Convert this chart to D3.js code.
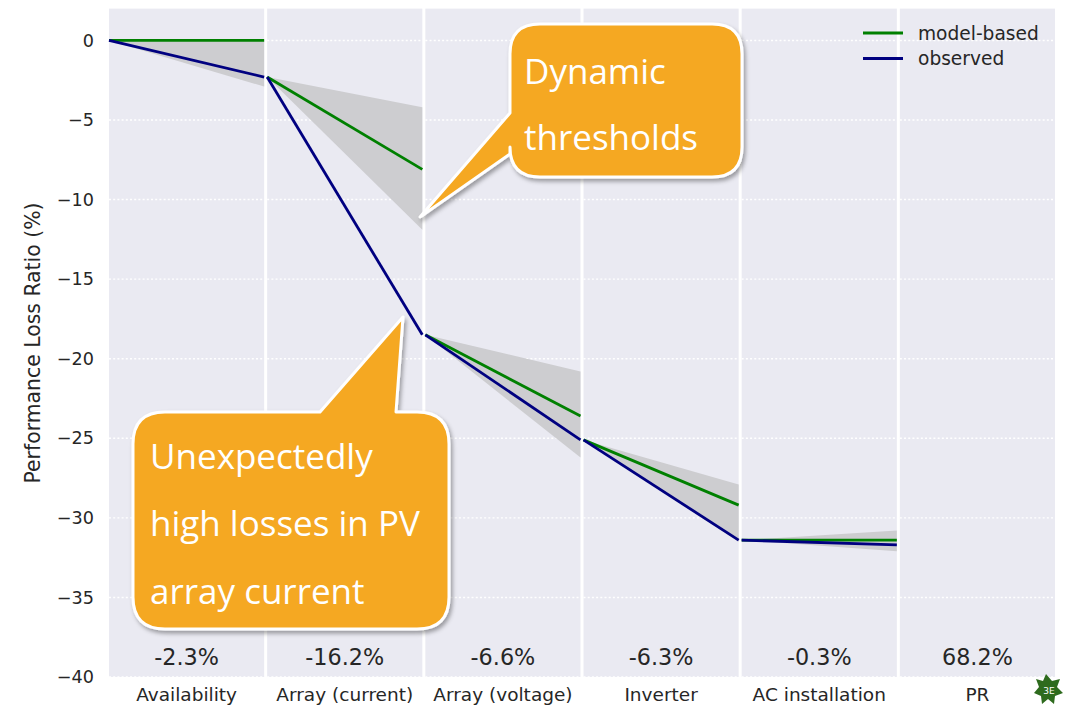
<!DOCTYPE html>
<html>
<head>
<meta charset="utf-8">
<script src="https://cdn.jsdelivr.net/npm/d3@7"></script>
<style>
  html, body { margin: 0; padding: 0; background: #ffffff; }
  svg { display: block; }
  .tick text { fill: #262626; font-family: "DejaVu Sans", sans-serif; }
</style>
</head>
<body>
<svg id="chart" width="1068" height="707"></svg>
<script>
// Loss steps of the PV system performance chain
const categories = ["Availability", "Array (current)", "Array (voltage)", "Inverter", "AC installation", "PR"];
// observed loss per step (percentage points); PR step has no loss line
const observedLoss = [-2.3, -16.2, -6.6, -6.3, -0.3];
// model-based expected loss per step
const modelLoss = [0.0, -5.8, -5.1, -4.1, 0.0];
// dynamic threshold band per step (relative to the start of the step)
const thresholdUpper = [0.0, -1.9, -2.3, -2.8, 0.6];
const thresholdLower = [-2.9, -9.6, -7.7, -6.4, -0.7];
// resulting performance ratio
const performanceRatio = 68.2;
const yTicks = [0, -5, -10, -15, -20, -25, -30, -35, -40];
const seriesNames = ["model-based", "observed"];
const seriesColors = ["#008000", "#000080"];

const svg = d3.select("#chart");

const x = d3.scaleBand().domain(categories).range([109, 1055]).paddingInner(0.019).paddingOuter(0);
const y = d3.scaleLinear().domain([-40, 2]).range([677, 8.6]);

// cumulative start of each step
const starts = [];
let acc = 0;
observedLoss.forEach(v => { starts.push(acc); acc += v; });

// panel backgrounds (one per step)
svg.append("g").selectAll("rect").data(categories).join("rect")
  .attr("x", d => x(d)).attr("y", y(2))
  .attr("width", x.bandwidth()).attr("height", y(-40) - y(2))
  .attr("fill", "#eaeaf2");

// horizontal dotted grid
const grid = svg.append("g");
categories.forEach(c => {
  grid.selectAll(null).data(yTicks).join("line")
    .attr("x1", x(c)).attr("x2", x(c) + x.bandwidth())
    .attr("y1", d => y(d)).attr("y2", d => y(d))
    .attr("stroke", "#ffffff").attr("stroke-width", 1.4)
    .attr("stroke-dasharray", "2,2.2");
});

// threshold bands
const steps = observedLoss.map((v, i) => ({
  cat: categories[i], start: starts[i],
  obs: v, model: modelLoss[i], up: thresholdUpper[i], lo: thresholdLower[i]
}));

svg.append("g").selectAll("path").data(steps).join("path")
  .attr("d", s => {
    const x0 = x(s.cat), x1 = x(s.cat) + x.bandwidth();
    return `M${x0},${y(s.start)}L${x1},${y(s.start + s.up)}L${x1},${y(s.start + s.lo)}Z`;
  })
  .attr("fill", "#cdcdd0");

// model-based and observed lines
const line = d3.line().x(d => d[0]).y(d => y(d[1]));
const lines = svg.append("g").attr("fill", "none").attr("stroke-width", 2.8);
lines.selectAll(".model").data(steps).join("path").attr("class", "model")
  .attr("d", s => line([[x(s.cat), s.start], [x(s.cat) + x.bandwidth(), s.start + s.model]]))
  .attr("stroke", seriesColors[0]);
lines.selectAll(".obs").data(steps).join("path").attr("class", "obs")
  .attr("d", s => line([[x(s.cat), s.start], [x(s.cat) + x.bandwidth(), s.start + s.obs]]))
  .attr("stroke", seriesColors[1]);

// per-step value labels
const valueLabels = observedLoss.map(v => v.toFixed(1) + "%").concat([performanceRatio.toFixed(1) + "%"]);
svg.append("g").selectAll("text").data(categories).join("text")
  .attr("x", d => x(d) + x.bandwidth() / 2).attr("y", 665)
  .attr("text-anchor", "middle")
  .attr("font-family", "DejaVu Sans, sans-serif").attr("font-size", 22.3)
  .attr("fill", "#262626")
  .text((d, i) => valueLabels[i]);

// axes
const yAxis = svg.append("g").attr("transform", "translate(109,0)")
  .call(d3.axisLeft(y).tickValues(yTicks).tickSize(0).tickPadding(15));
yAxis.select(".domain").remove();
yAxis.selectAll("text").attr("font-size", 17.6);

const xAxis = svg.append("g").attr("transform", "translate(0,677)")
  .call(d3.axisBottom(x).tickSize(0).tickPadding(11));
xAxis.select(".domain").remove();
xAxis.selectAll("text").attr("font-size", 18.5);

svg.append("text")
  .attr("transform", "translate(39.5,343) rotate(-90)")
  .attr("text-anchor", "middle")
  .attr("font-family", "DejaVu Sans, sans-serif").attr("font-size", 20.4)
  .attr("fill", "#262626")
  .text("Performance Loss Ratio (%)");

// legend
const legend = svg.append("g").attr("transform", "translate(863,33)");
seriesNames.forEach((n, i) => {
  const g = legend.append("g").attr("transform", `translate(0,${i * 25.5})`);
  g.append("line").attr("x1", 0).attr("x2", 40).attr("stroke", seriesColors[i]).attr("stroke-width", 2.8);
  g.append("text").attr("x", 55).attr("dy", "0.35em")
    .attr("font-family", "DejaVu Sans, sans-serif").attr("font-size", 18.6)
    .attr("fill", "#262626").text(n);
});

// callouts
const defs = svg.append("defs");
const f = defs.append("filter").attr("id", "shadow").attr("x", "-20%").attr("y", "-20%").attr("width", "140%").attr("height", "140%");
f.append("feDropShadow").attr("dx", 2).attr("dy", 3).attr("stdDeviation", 2.2)
  .attr("flood-color", "#000").attr("flood-opacity", 0.35);

function roundedBoxPath(x0, y0, x1, y1, r, tail) {
  // tail: {side: "left"|"top", a, b, tip:[tx,ty]}
  let p = `M${x0 + r},${y0}`;
  if (tail && tail.side === "top") {
    p += `L${tail.a},${y0}L${tail.tip[0]},${tail.tip[1]}L${tail.b},${y0}`;
  }
  p += `L${x1 - r},${y0}Q${x1},${y0} ${x1},${y0 + r}`;
  p += `L${x1},${y1 - r}Q${x1},${y1} ${x1 - r},${y1}`;
  p += `L${x0 + r},${y1}Q${x0},${y1} ${x0},${y1 - r}`;
  if (tail && tail.side === "left") {
    p += `L${x0},${tail.b}L${tail.tip[0]},${tail.tip[1]}L${x0},${tail.a}`;
  }
  p += `L${x0},${y0 + r}Q${x0},${y0} ${x0 + r},${y0}Z`;
  return p;
}

const callouts = [
  { box: [510, 24, 742, 177], r: 30, tail: { side: "left", a: 113, b: 154, tip: [420, 217] },
    lines: ["Dynamic", "thresholds"], tx: 524, ty: [84, 150] },
  { box: [133, 412, 449, 629], r: 32, tail: { side: "top", a: 320, b: 396, tip: [403, 317] },
    lines: ["Unexpectedly", "high losses in PV", "array current"], tx: 150, ty: [469, 536, 604] }
];

callouts.forEach(c => {
  const g = svg.append("g");
  g.append("path")
    .attr("d", roundedBoxPath(c.box[0], c.box[1], c.box[2], c.box[3], c.r, c.tail))
    .attr("fill", "#f5a823").attr("stroke", "#ffffff").attr("stroke-width", 3)
    .attr("stroke-linejoin", "round")
    .attr("filter", "url(#shadow)");
  c.lines.forEach((t, i) => {
    g.append("text").attr("x", c.tx).attr("y", c.ty[i])
      .attr("font-family", "Open Sans, Noto Sans, sans-serif").attr("font-size", 35)
      .attr("fill", "#ffffff").text(t);
  });
});

// small leaf mark in the corner
const leaf = svg.append("g").attr("transform", "translate(1048,690)");
leaf.append("path")
  .attr("d", "M-2,-16L4,-9L12,-11L9,-3L15,3L7,6L6,14L0,9L-6,14L-7,6L-14,3L-9,-3L-12,-11L-5,-9Z")
  .attr("fill", "#2e6b1e");
leaf.append("text").attr("x", 1).attr("y", 4).attr("text-anchor", "middle")
  .attr("font-family", "DejaVu Sans, sans-serif").attr("font-size", 9).attr("fill", "#ffffff").text("3E");
</script>
</body>
</html>
